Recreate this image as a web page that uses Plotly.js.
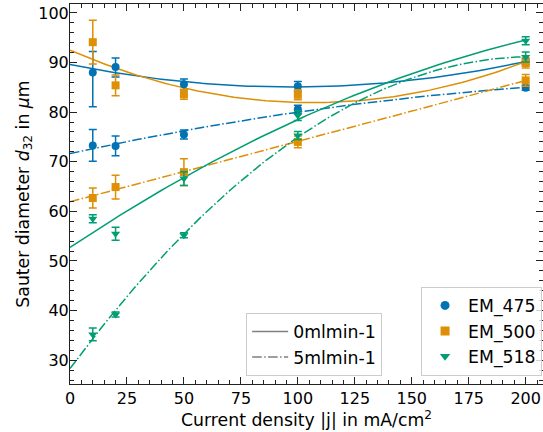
<!DOCTYPE html>
<html>
<head>
<meta charset="utf-8">
<script src="https://cdn.plot.ly/plotly-3.0.1.min.js"></script>
<style>html,body{margin:0;padding:0;background:#fff;}#chart{width:543px;height:432px;}</style>
</head>
<body>
<div id="chart"></div>
<script>
// ---- data ----
const currentDensity = [10, 20, 50, 100, 200];

const em475_0 = [88.0, 89.1, 85.6, 85.2, 90.2];
const em475_0_errPlus = [4.2, 1.8, 1.1, 1.0, 0.6];
const em475_0_errMinus = [6.9, 2.0, 1.1, 1.0, 0.6];
const em475_5 = [73.3, 73.2, 75.5, 80.6, 84.9];
const em475_5_err = [3.2, 2.0, 0.9, 0.8, 0.5];

const em500_0 = [94.1, 85.4, 83.6, 83.5, 89.9];
const em500_0_err = [4.4, 2.1, 1.0, 1.0, 1.0];
const em500_5 = [62.7, 64.9, 67.9, 74.0, 86.4];
const em500_5_err = [2.0, 2.4, 2.7, 1.2, 1.2];

const em518_0 = [58.5, 55.5, 66.6, 79.3, 94.4];
const em518_0_err = [0.8, 1.3, 1.4, 1.0, 0.8];
const em518_5 = [35.2, 39.2, 55.2, 75.3, 91.1];
const em518_5_err = [1.3, 0.5, 0.5, 0.8, 1.0];

const seriesNames = ["EM_475", "EM_500", "EM_518"];
const flowNames = ["0mlmin-1", "5mlmin-1"];
const xTicks = [0, 25, 50, 75, 100, 125, 150, 175, 200];
const yTicks = [30, 40, 50, 60, 70, 80, 90, 100];

// ---- styles ----
const colors = ["#0173B2", "#DE8F05", "#029E73"];
const symbols = ["circle", "square", "triangle-down"];
const DASHDOT = "9.6px,2.4px,1.5px,2.4px";
const FONT = "DejaVu Sans, sans-serif";
const FS = 17.3;   // labels and legends
const TFS = 16;    // tick labels

// quadratic least squares fit
function polyfit2(xs, ys) {
  let S = [[0,0,0],[0,0,0],[0,0,0]], T = [0,0,0];
  for (let i = 0; i < xs.length; i++) {
    const p = [1, xs[i], xs[i]*xs[i]];
    for (let r = 0; r < 3; r++) {
      T[r] += p[r]*ys[i];
      for (let c = 0; c < 3; c++) S[r][c] += p[r]*p[c];
    }
  }
  const A = S.map((row, i) => row.concat([T[i]]));
  for (let i = 0; i < 3; i++) {
    let m = i;
    for (let k = i+1; k < 3; k++) if (Math.abs(A[k][i]) > Math.abs(A[m][i])) m = k;
    [A[i], A[m]] = [A[m], A[i]];
    for (let k = i+1; k < 3; k++) {
      const f = A[k][i]/A[i][i];
      for (let c = i; c < 4; c++) A[k][c] -= f*A[i][c];
    }
  }
  const coef = [0,0,0];
  for (let i = 2; i >= 0; i--) {
    let s = A[i][3];
    for (let c = i+1; c < 3; c++) s -= A[i][c]*coef[c];
    coef[i] = s/A[i][i];
  }
  return coef;
}

const fitX = [];
for (let v = 0; v <= 200; v += 2) fitX.push(v);

const groups = [
  {y: em475_0, ep: em475_0_errPlus, em: em475_0_errMinus, c: 0, dash: "solid"},
  {y: em475_5, ep: em475_5_err, em: em475_5_err, c: 0, dash: DASHDOT},
  {y: em500_0, ep: em500_0_err, em: em500_0_err, c: 1, dash: "solid"},
  {y: em500_5, ep: em500_5_err, em: em500_5_err, c: 1, dash: DASHDOT},
  {y: em518_0, ep: em518_0_err, em: em518_0_err, c: 2, dash: "solid"},
  {y: em518_5, ep: em518_5_err, em: em518_5_err, c: 2, dash: DASHDOT},
];

const traces = [];
groups.forEach(g => {
  const k = polyfit2(currentDensity, g.y);
  traces.push({
    x: fitX, y: fitX.map(v => k[0] + k[1]*v + k[2]*v*v),
    mode: "lines", line: {color: colors[g.c], width: 1.5, dash: g.dash},
    showlegend: false, hoverinfo: "skip"
  });
});
groups.forEach(g => {
  traces.push({
    x: currentDensity, y: g.y, mode: "markers",
    marker: {color: colors[g.c], symbol: symbols[g.c], size: 8},
    error_y: {type: "data", symmetric: false, array: g.ep, arrayminus: g.em,
              color: colors[g.c], thickness: 1.5, width: 4},
    showlegend: false
  });
});
seriesNames.forEach((n, i) => {
  traces.push({x: [null], y: [null], mode: "markers", name: n, legend: "legend",
    marker: {color: colors[i], symbol: symbols[i], size: 9}});
});
flowNames.forEach((n, i) => {
  traces.push({x: [null], y: [null], mode: "lines", name: n, legend: "legend2",
    line: {color: "#7f7f7f", width: 1.5, dash: i === 0 ? "solid" : DASHDOT}});
});

const axisCommon = {
  showline: true, linecolor: "#222", linewidth: 1, mirror: "allticks",
  ticks: "inside", ticklen: 7, tickwidth: 1, tickcolor: "#222",
  showgrid: false, zeroline: false,
  tickfont: {family: FONT, size: TFS, color: "#000"}
};

const legendCommon = {
  xanchor: "right", yanchor: "bottom",
  bgcolor: "rgba(255,255,255,0.8)", bordercolor: "#cccccc", borderwidth: 1,
  font: {family: FONT, size: FS, color: "#000"}, itemwidth: 36
};

const layout = {
  width: 543, height: 432,
  margin: {l: 70, r: 0, t: 4, b: 48},
  paper_bgcolor: "#fff", plot_bgcolor: "#fff",
  font: {family: FONT, size: FS, color: "#000"},
  xaxis: Object.assign({}, axisCommon, {
    range: [0, 207.6], tickvals: xTicks, ticktext: xTicks.map(String),
    minor: {dtick: 5, tick0: 0, ticks: "inside", ticklen: 4, tickcolor: "#222"},
    title: {text: "Current density |j| in mA/cm<sup>2</sup>", standoff: 2,
            font: {family: FONT, size: FS, color: "#000"}}
  }),
  yaxis: Object.assign({}, axisCommon, {
    range: [25.2, 101.8], tickvals: yTicks, ticktext: yTicks.map(String),
    ticklabelstandoff: -3,
    minor: {dtick: 2, tick0: 0, ticks: "inside", ticklen: 4, tickcolor: "#222"},
    title: {text: "Sauter diameter <i>d</i><sub>32</sub> in <i>μ</i>m", standoff: 4,
            font: {family: FONT, size: FS, color: "#000"}}
  }),
  legend: Object.assign({}, legendCommon, {x: 0.998, y: 0.022}),
  legend2: Object.assign({}, legendCommon, {x: 0.66, y: 0.022})
};

Plotly.newPlot("chart", traces, layout, {staticPlot: true, displayModeBar: false});
</script>
</body>
</html>
